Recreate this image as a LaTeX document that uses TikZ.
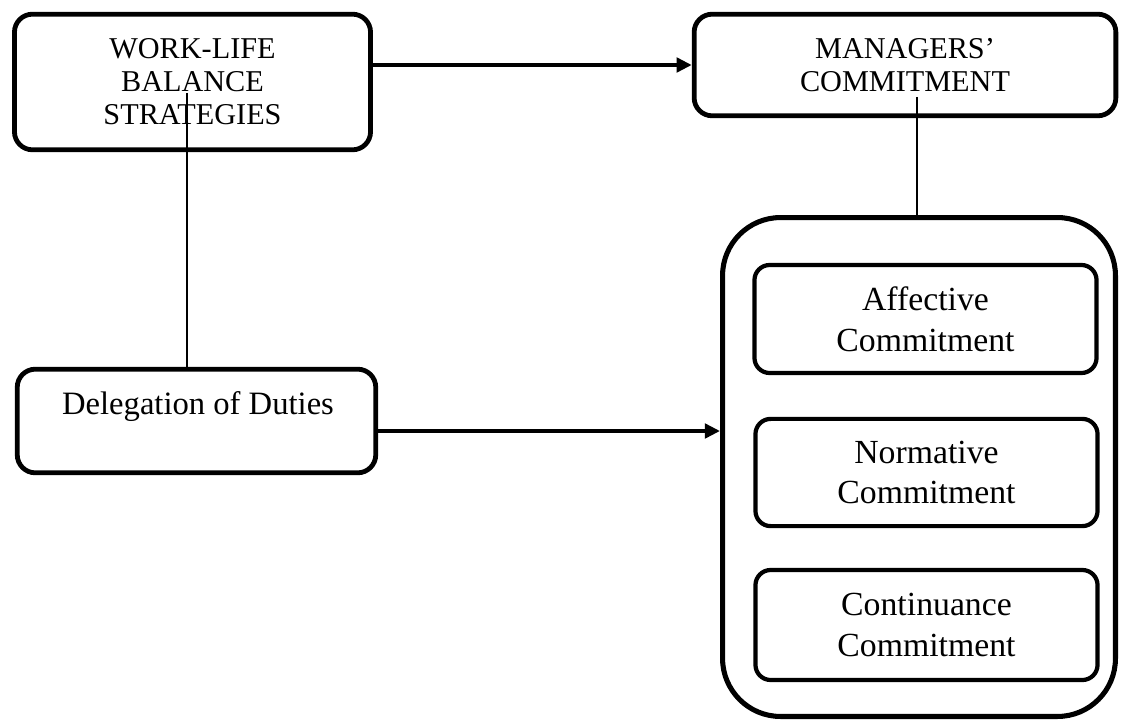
\documentclass[tikz,border=0pt]{standalone}
\usepackage{fontspec}
\setmainfont{Liberation Serif}
\usetikzlibrary{arrows.meta,positioning,calc}

\begin{document}
\begin{tikzpicture}[x=0.025cm,y=-0.025cm,
	box/.style={draw,line width=3.4pt,rounded corners=0.45cm,align=center,inner sep=0pt},
	capsbox/.style={box,font=\fontsize{21.5}{23.5}\selectfont},
	subbox/.style={box,line width=3pt,rounded corners=0.38cm,minimum width=8.55cm,font=\fontsize{24}{29}\selectfont},
	arr/.style={line width=2.8pt,-{Triangle[length=0.38cm,width=0.36cm]}},
	link/.style={line width=1.4pt}]
	\useasboundingbox (0,0) rectangle (1122,721);

	% top row
	\node[capsbox,minimum width=8.9cm,minimum height=3.39cm] (wlb) at (192.5,82) {WORK-LIFE\\BALANCE\\STRATEGIES};
	\node[capsbox,minimum width=10.54cm,minimum height=2.54cm] (mgr) at (905,65) {MANAGERS'\\COMMITMENT};

	% left box
	\node[box,minimum width=8.96cm,minimum height=2.59cm] (deleg) at (196.5,421) {};
	\node[anchor=base,font=\fontsize{23.2}{28}\selectfont] (delegtxt) at ($(deleg.north)+(1.5,48)$) {Delegation of Duties};

	% commitment group
	\node[box,line width=3.6pt,rounded corners=1.45cm,minimum width=9.82cm,minimum height=12.47cm] (group) at (919,467) {};
	\node[subbox,minimum height=2.7cm] (aff) at (925.5,319) {Affective\\Commitment};
	\node[subbox,minimum height=2.68cm] (norm) at (926.5,472.5) {Normative\\Commitment};
	\node[subbox,minimum height=2.75cm] (cont) at (926.5,625) {Continuance\\Commitment};

	% connectors
	\draw[arr] (wlb.east |- mgr.west) -- (mgr.west);
	\draw[arr] ([yshift=-0.25cm]deleg.east) -- ([yshift=-0.25cm]deleg.east -| group.west);
	\coordinate (wlbfoot) at (187,93);
	\coordinate (mgrfoot) at (917,97);
	\draw[link] (wlbfoot) -- (wlbfoot |- deleg.north);
	\draw[link] (mgrfoot) -- (mgrfoot |- group.north);
\end{tikzpicture}
\end{document}
